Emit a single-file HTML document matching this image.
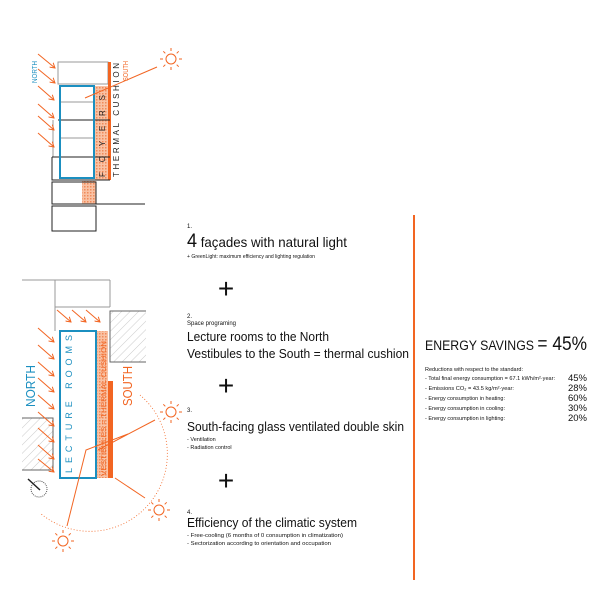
<!DOCTYPE html>
<html><head><meta charset="utf-8"><style>
body{margin:0;background:#fff}
svg{display:block;font-family:"Liberation Sans",sans-serif}
</style></head><body>
<svg width="603" height="600" viewBox="0 0 603 600">
<defs>
<pattern id="oh" width="3" height="3" patternUnits="userSpaceOnUse"><rect width="3" height="3" fill="#f9c2a4"/><rect width="1.5" height="1.5" fill="#f08a5a"/></pattern>
<pattern id="gh" width="6" height="6" patternUnits="userSpaceOnUse" patternTransform="rotate(45)"><line x1="0" y1="0" x2="0" y2="6" stroke="#ccc" stroke-width="1"/></pattern>
<g id="sun" stroke="#f26522" stroke-width="1" fill="none"><circle r="5"/><path d="M0 -8v-3M0 8v3M-8 0h-3M8 0h3M5.7 5.7l2 2M-5.7 -5.7l-2 -2M5.7 -5.7l2 -2M-5.7 5.7l-2 2"/></g>
<marker id="ah" markerWidth="6" markerHeight="6" refX="5" refY="3" orient="auto"><path d="M0 0L5 3L0 6" fill="none" stroke="#f26522" stroke-width="1"/></marker>
</defs>

<!-- TOP DIAGRAM -->
<g fill="none" stroke="#999" stroke-width="1">
<rect x="58" y="62" width="50" height="22"/>
<line x1="60" y1="102" x2="94" y2="102"/><line x1="60" y1="138" x2="94" y2="138"/>
<line x1="53" y1="120" x2="53" y2="157"/>
</g>
<rect x="95" y="86" width="14" height="94" fill="url(#oh)"/>
<rect x="82" y="181" width="14" height="23" fill="url(#oh)"/>
<rect x="108" y="62" width="3" height="118" fill="#f26522"/>
<g stroke="#222" stroke-width="1" fill="none">
<line x1="58" y1="120" x2="110" y2="120"/><line x1="52" y1="157" x2="110" y2="157"/>
<path d="M52 157V180H110"/>
<rect x="52" y="182" width="44" height="22"/><rect x="52" y="206" width="44" height="25"/>
<line x1="96" y1="204" x2="145" y2="204"/>
</g>
<rect x="60" y="86" width="34" height="92" fill="none" stroke="#1b8fc0" stroke-width="2"/>
<text transform="translate(105,177) rotate(-90)" font-size="8" fill="#222" textLength="82" lengthAdjust="spacing">FOYERS</text>
<text transform="translate(119,177) rotate(-90)" font-size="8" fill="#222" textLength="114" lengthAdjust="spacing">THERMAL CUSHION</text>
<text transform="translate(37,83) rotate(-90)" font-size="7" fill="#1b8fc0" textLength="22" lengthAdjust="spacingAndGlyphs">NORTH</text>
<text transform="translate(128,81) rotate(-90)" font-size="7" fill="#f26522" textLength="20" lengthAdjust="spacingAndGlyphs">SOUTH</text>
<g stroke="#f26522" stroke-width="1" marker-end="url(#ah)">
<line x1="38" y1="54" x2="55" y2="68"/><line x1="38" y1="69" x2="55" y2="83"/>
<line x1="38" y1="86" x2="54" y2="100"/><line x1="38" y1="104" x2="54" y2="118"/>
<line x1="38" y1="116" x2="54" y2="130"/><line x1="38" y1="133" x2="54" y2="147"/>
</g>
<line x1="157" y1="67" x2="85" y2="98" stroke="#f26522"/>
<use href="#sun" x="171" y="59"/>

<!-- BOTTOM DIAGRAM -->
<g fill="none" stroke="#999"><path d="M22 280H110M55 280V331M110 280V307M55 307H110"/></g>
<rect x="110" y="311" width="36" height="51" fill="url(#gh)"/><path d="M146 311H110V362H146" fill="none" stroke="#666"/>
<rect x="22" y="418" width="31" height="52" fill="url(#gh)"/><path d="M22 418H53V470H22" fill="none" stroke="#666"/>
<rect x="96" y="331" width="12" height="147" fill="url(#oh)"/>
<rect x="108" y="381" width="5" height="97" fill="#f26522"/>
<rect x="60" y="331" width="36" height="147" fill="none" stroke="#1b8fc0" stroke-width="2"/>
<text transform="translate(72,473) rotate(-90)" font-size="9" fill="#1b8fc0" textLength="138" lengthAdjust="spacing">LECTURE ROOMS</text>
<text transform="translate(106,476) rotate(-90)" font-size="7.5" fill="#f26522" textLength="135" lengthAdjust="spacingAndGlyphs">VESTIBULES = THERMAL CUSHION</text>
<text transform="translate(35,407) rotate(-90)" font-size="13" fill="#1b8fc0" textLength="42" lengthAdjust="spacingAndGlyphs">NORTH</text>
<text transform="translate(132,406) rotate(-90)" font-size="13" fill="#f26522" textLength="40" lengthAdjust="spacingAndGlyphs">SOUTH</text>
<g stroke="#f26522" stroke-width="1" marker-end="url(#ah)">
<line x1="57" y1="310" x2="71" y2="322"/><line x1="72" y1="310" x2="86" y2="322"/><line x1="86" y1="310" x2="100" y2="322"/>
<line x1="38" y1="328" x2="54" y2="342"/><line x1="38" y1="345" x2="54" y2="359"/><line x1="38" y1="362" x2="54" y2="376"/>
<line x1="38" y1="378" x2="54" y2="392"/><line x1="38" y1="395" x2="54" y2="409"/><line x1="38" y1="412" x2="54" y2="426"/>
<line x1="38" y1="428" x2="54" y2="442"/><line x1="38" y1="445" x2="54" y2="459"/><line x1="38" y1="459" x2="54" y2="472"/>
</g>
<path d="M140 395A65 65 0 0 1 40 513" fill="none" stroke="#f26522" stroke-dasharray="1 2" stroke-width="0.8"/>
<g stroke="#f26522" stroke-width="1" fill="none">
<path d="M155 420L98 450M145 498L115 478M67 526L86 450L128 434"/>
</g>
<use href="#sun" x="171" y="412"/><use href="#sun" x="159" y="510"/><use href="#sun" x="63" y="541"/>
<circle cx="39" cy="489" r="8" fill="none" stroke="#555" stroke-dasharray="1 1"/>
<line x1="28" y1="479" x2="40" y2="490" stroke="#222" stroke-width="1.5"/>

<!-- MIDDLE TEXT -->
<g fill="#111">
<text x="187" y="228" font-size="6">1.</text>
<text x="187" y="247" font-size="14" textLength="160" lengthAdjust="spacingAndGlyphs"><tspan font-size="19">4</tspan> façades with natural light</text>
<text x="187" y="258" font-size="5.5" textLength="128" lengthAdjust="spacingAndGlyphs">+ GreenLight: maximum efficiency and lighting regulation</text>
<text x="226" y="298" font-size="28" text-anchor="middle">+</text>
<text x="187" y="318" font-size="6">2.</text>
<text x="187" y="325" font-size="6" textLength="49" lengthAdjust="spacingAndGlyphs">Space programing</text>
<text x="187" y="341" font-size="12.5" textLength="142" lengthAdjust="spacingAndGlyphs">Lecture rooms to the North</text>
<text x="187" y="358" font-size="12.5" textLength="222" lengthAdjust="spacingAndGlyphs">Vestibules to the South = thermal cushion</text>
<text x="226" y="395" font-size="28" text-anchor="middle">+</text>
<text x="187" y="412" font-size="6">3.</text>
<text x="187" y="431" font-size="12.5" textLength="217" lengthAdjust="spacingAndGlyphs">South-facing glass ventilated double skin</text>
<text x="187" y="441" font-size="5.5">- Ventilation</text>
<text x="187" y="449" font-size="5.5">- Radiation control</text>
<text x="226" y="490" font-size="28" text-anchor="middle">+</text>
<text x="187" y="514" font-size="6">4.</text>
<text x="187" y="527" font-size="12.5" textLength="170" lengthAdjust="spacingAndGlyphs">Efficiency of the climatic system</text>
<text x="187" y="537" font-size="5.5" textLength="156" lengthAdjust="spacingAndGlyphs">- Free-cooling (6 months of 0 consumption in climatization)</text>
<text x="187" y="545" font-size="5.5" textLength="144" lengthAdjust="spacingAndGlyphs">- Sectorization according to orientation and occupation</text>
</g>
<line x1="414" y1="215" x2="414" y2="580" stroke="#f26522" stroke-width="2"/>
<g fill="#111">
<text x="425" y="350" font-size="13.5" textLength="162" lengthAdjust="spacingAndGlyphs">ENERGY SAVINGS <tspan font-size="19">= 45%</tspan></text>
<text x="425" y="371" font-size="5.5" textLength="98" lengthAdjust="spacingAndGlyphs">Reductions with respect to the standard:</text>
<text x="425" y="380" font-size="5.5" textLength="130" lengthAdjust="spacingAndGlyphs">- Total final energy consumption = 67.1 kWh/m²·year:</text>
<text x="425" y="390" font-size="5.5" textLength="89" lengthAdjust="spacingAndGlyphs">- Emissions CO₂ = 43.5 kg/m²·year:</text>
<text x="425" y="400" font-size="5.5" textLength="80" lengthAdjust="spacingAndGlyphs">- Energy consumption in heating:</text>
<text x="425" y="410" font-size="5.5" textLength="80" lengthAdjust="spacingAndGlyphs">- Energy consumption in cooling:</text>
<text x="425" y="420" font-size="5.5" textLength="80" lengthAdjust="spacingAndGlyphs">- Energy consumption in lighting:</text>
<g font-size="9.5" text-anchor="end">
<text x="587" y="381">45%</text><text x="587" y="391">28%</text><text x="587" y="401">60%</text><text x="587" y="411">30%</text><text x="587" y="421">20%</text>
</g>
</g>
</svg>
</body></html>
